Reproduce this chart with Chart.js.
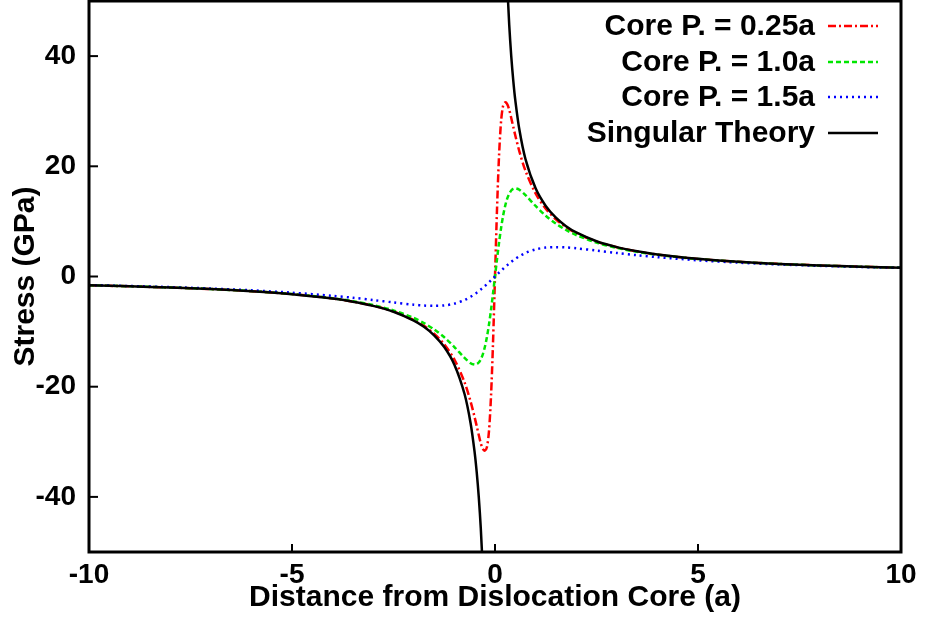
<!DOCTYPE html>
<html>
<head>
<meta charset="utf-8">
<script src="https://cdn.jsdelivr.net/npm/chart.js@4"></script>
<style>
html, body { margin: 0; padding: 0; background: #fff; }
canvas { display: block; }
</style>
</head>
<body>
<canvas id="myChart" width="927" height="619"></canvas>
<script>
// distance from the core (in a), shared by all curves
var xValues = [-10, -9, -8, -7, -6, -5, -4, -3.5, -3, -2.5, -2, -1.75, -1.5, -1.25, -1, -0.75, -0.6, -0.5, -0.45, -0.4, -0.35, -0.3, -0.25, -0.2, -0.15, -0.1, -0.05,
  0, 0.05, 0.1, 0.15, 0.2, 0.25, 0.3, 0.35, 0.4, 0.45, 0.5, 0.6, 0.75, 1, 1.25, 1.5, 1.75, 2, 2.5, 3, 3.5, 4, 5, 6, 7, 8, 9, 10];

// stress in GPa
var core025 = [-1.6, -1.78, -2.0, -2.28, -2.66, -3.19, -3.98, -4.55, -5.3, -6.34, -7.88, -8.96, -10.38, -12.31, -15.06, -19.2, -22.72, -25.6, -27.17, -28.76, -30.27, -31.3, -31.6, -31.0, -28.2, -22.0, -12.3,
  0, 12.3, 22.0, 28.2, 31.0, 31.6, 31.3, 30.27, 28.76, 27.17, 25.6, 22.72, 19.2, 15.06, 12.31, 10.38, 8.96, 7.88, 6.34, 5.3, 4.55, 3.98, 3.19, 2.66, 2.28, 2.0, 1.78, 1.6];
var core10 = [-1.6, -1.77, -1.99, -2.27, -2.65, -3.17, -3.94, -4.48, -5.19, -6.15, -7.53, -8.45, -9.6, -11.03, -12.8, -14.77, -15.74, -16.0, -15.91, -15.61, -15.03, -14.12, -12.8, -11.03, -8.81, -6.15, -3.17,
  0, 3.17, 6.15, 8.81, 11.03, 12.8, 14.12, 15.03, 15.61, 15.91, 16.0, 15.74, 14.77, 12.8, 11.03, 9.6, 8.45, 7.53, 6.15, 5.19, 4.48, 3.94, 3.17, 2.65, 2.27, 1.99, 1.77, 1.6];
var core15 = [-1.56, -1.73, -1.93, -2.19, -2.51, -2.94, -3.51, -3.86, -4.27, -4.71, -5.12, -5.27, -5.33, -5.25, -4.92, -4.27, -3.68, -3.2, -2.94, -2.66, -2.36, -2.05, -1.73, -1.4, -1.06, -0.71, -0.36,
  0, 0.36, 0.71, 1.06, 1.4, 1.73, 2.05, 2.36, 2.66, 2.94, 3.2, 3.68, 4.27, 4.92, 5.25, 5.33, 5.27, 5.12, 4.71, 4.27, 3.86, 3.51, 2.94, 2.51, 2.19, 1.93, 1.73, 1.56];
var singular = [-1.6, -1.78, -2.0, -2.29, -2.67, -3.2, -4.0, -4.57, -5.33, -6.4, -8.0, -9.14, -10.67, -12.8, -16.0, -21.33, -26.67, -32.0, -35.56, -40.0, -45.71, -53.33, null, null, null, null, null,
  null, null, null, null, null, null, 53.33, 45.71, 40.0, 35.56, 32.0, 26.67, 21.33, 16.0, 12.8, 10.67, 9.14, 8.0, 6.4, 5.33, 4.57, 4.0, 3.2, 2.67, 2.29, 2.0, 1.78, 1.6];

var seriesLabels = ["Core P. = 0.25a", "Core P. = 1.0a", "Core P. = 1.5a", "Singular Theory"];
var xTicks = [-10, -5, 0, 5, 10];
var yTicks = [-40, -20, 0, 20, 40];

function toPoints(ys) {
  return xValues.map(function (x, i) { return { x: x, y: ys[i] }; });
}

var family = '"Liberation Sans", Arial, sans-serif';

// frame, inward ticks and the gnuplot-like key
var framePlugin = {
  id: 'frame',
  afterDatasetsDraw: function (chart) {
    var ctx = chart.ctx;
    var a = chart.chartArea;
    var xs = chart.scales.x, ys = chart.scales.y;
    ctx.save();
    ctx.strokeStyle = '#000';
    ctx.lineWidth = 2;
    xTicks.forEach(function (v) {
      var px = xs.getPixelForValue(v);
      ctx.beginPath(); ctx.moveTo(px, a.bottom); ctx.lineTo(px, a.bottom - 8); ctx.stroke();
    });
    yTicks.forEach(function (v) {
      var py = ys.getPixelForValue(v);
      ctx.beginPath(); ctx.moveTo(a.left, py); ctx.lineTo(a.left + 9, py); ctx.stroke();
    });
    ctx.lineWidth = 3;
    ctx.strokeRect(a.left, a.top, a.right - a.left, a.bottom - a.top);

    // key
    ctx.font = 'bold 30px ' + family;
    ctx.textAlign = 'right';
    ctx.textBaseline = 'middle';
    var rowY = [26, 62, 97, 133];
    chart.data.datasets.forEach(function (ds, i) {
      ctx.fillStyle = '#000';
      ctx.fillText(ds.label, 815, rowY[i] + 1);
      ctx.strokeStyle = ds.borderColor;
      ctx.lineWidth = ds.borderWidth;
      ctx.setLineDash(ds.borderDash || []);
      ctx.beginPath(); ctx.moveTo(828, rowY[i]); ctx.lineTo(878, rowY[i]); ctx.stroke();
      ctx.setLineDash([]);
    });
    ctx.restore();
  }
};

var myCanvas = document.getElementById('myChart').getContext('2d');

var myChart = new Chart(myCanvas, {
  type: 'line',
  data: {
    datasets: [
      { label: seriesLabels[0], data: toPoints(core025), borderColor: 'rgb(255, 0, 0)', borderWidth: 2.5, borderDash: [8, 3, 2, 3], order: 4 },
      { label: seriesLabels[1], data: toPoints(core10), borderColor: 'rgb(0, 230, 0)', borderWidth: 2.5, borderDash: [5, 3], order: 3 },
      { label: seriesLabels[2], data: toPoints(core15), borderColor: 'rgb(0, 0, 255)', borderWidth: 2.5, borderDash: [2, 4], order: 2 },
      { label: seriesLabels[3], data: toPoints(singular), borderColor: 'rgb(0, 0, 0)', borderWidth: 2.5, order: 1 }
    ]
  },
  options: {
    responsive: false,
    animation: false,
    devicePixelRatio: 1,
    spanGaps: false,
    elements: { point: { radius: 0 }, line: { tension: 0.3, fill: false } },
    layout: { padding: { top: 1, right: 26, left: 0, bottom: 0 } },
    plugins: { legend: { display: false }, tooltip: { enabled: false } },
    scales: {
      x: {
        type: 'linear',
        min: -10, max: 10,
        afterBuildTicks: function (s) { s.ticks = xTicks.map(function (v) { return { value: v }; }); },
        afterFit: function (s) { s.height = 67; s.paddingLeft = 0; s.paddingRight = 0; },
        grid: { display: false },
        border: { display: false },
        ticks: { color: '#000', padding: -2, maxRotation: 0, font: { family: family, size: 28, weight: 'bold' } },
        title: { display: true, text: 'Distance from Dislocation Core (a)', color: '#000', padding: { top: 0, bottom: 3 },
          font: { family: family, size: 30, weight: 'bold' } }
      },
      y: {
        type: 'linear',
        min: -50, max: 50,
        afterBuildTicks: function (s) { s.ticks = yTicks.map(function (v) { return { value: v }; }); },
        afterFit: function (s) { s.width = 89; s.paddingTop = 0; s.paddingBottom = 0; },
        grid: { display: false },
        border: { display: false },
        ticks: { color: '#000', padding: 5, font: { family: family, size: 28, weight: 'bold' } },
        title: { display: true, text: 'Stress (GPa)', color: '#000', padding: { top: 8, bottom: 0 },
          font: { family: family, size: 30, weight: 'bold' } }
      }
    }
  },
  plugins: [framePlugin]
});
</script>
</body>
</html>
